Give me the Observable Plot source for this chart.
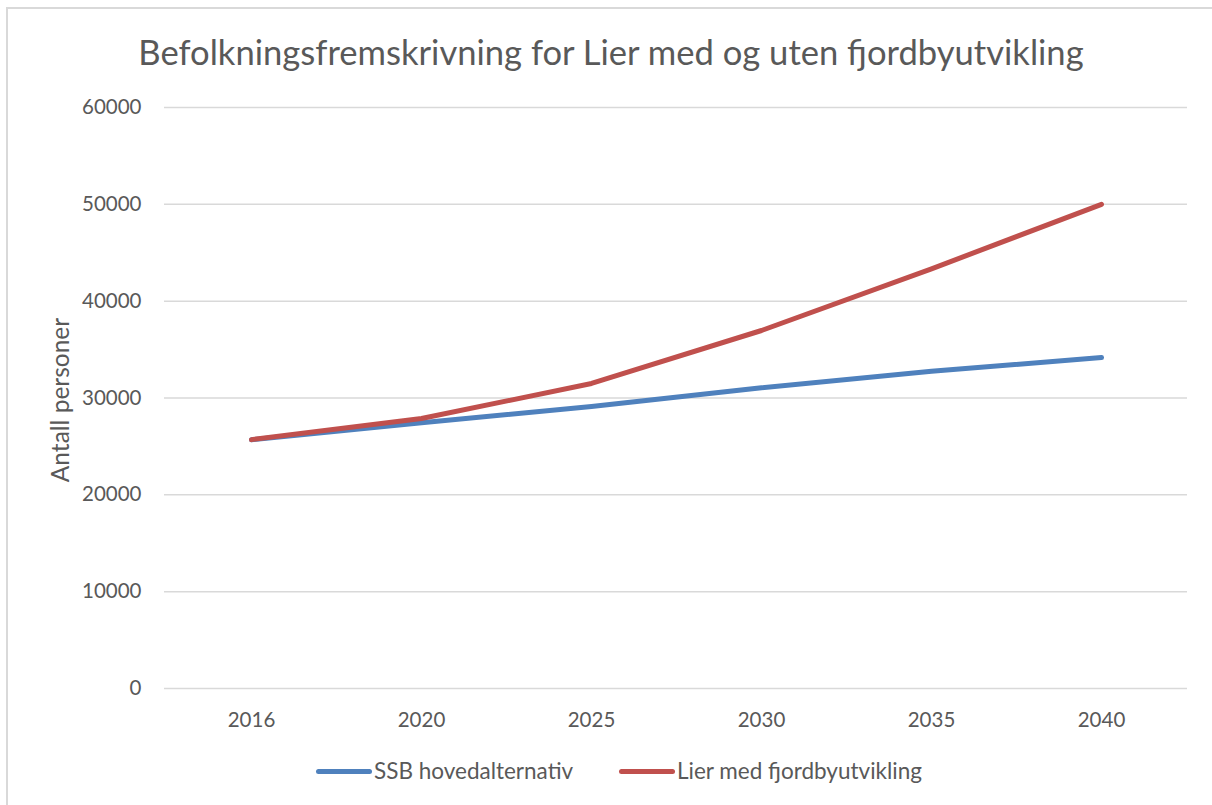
<!DOCTYPE html>
<html>
<head>
<meta charset="utf-8">
<script src="https://cdn.jsdelivr.net/npm/d3@7"></script>
<script src="https://cdn.jsdelivr.net/npm/@observablehq/plot@0.6"></script>
<style>
  html, body { margin: 0; padding: 0; background: #fff; }
  #wrap { position: relative; width: 1212px; height: 805px; overflow: hidden; font-family: Lato, "Open Sans", sans-serif; color: #595959; }
  #frame { position: absolute; left: 6px; top: 7px; right: -10px; bottom: -10px; border-top: 2px solid #D9D9D9; border-left: 2px solid #D9D9D9; }
  #title { position: absolute; left: 0; width: 1222px; top: 30px; text-align: center; font-size: 34.6px; line-height: 44px; color: #595959; white-space: nowrap; }
  #chart { position: absolute; left: 0; top: 0; }
  #legend { position: absolute; top: 758px; left: 0; width: 1212px; height: 26px; }
  .li { position: absolute; top: 0; display: flex; align-items: center; font-size: 22.5px; line-height: 26px; color: #595959; white-space: nowrap; }
  .sw { width: 56px; height: 5px; border-radius: 3px; margin-right: 2px; }
</style>
</head>
<body>
<div id="wrap">
  <div id="frame"></div>
  <div id="chart"></div>
  <div id="title"></div>
  <div id="legend"></div>
</div>
<script>
const titleText = "Befolkningsfremskrivning for Lier med og uten fjordbyutvikling";
const yLabel = "Antall personer";
const years = ["2016", "2020", "2025", "2030", "2035", "2040"];
const seriesNames = ["SSB hovedalternativ", "Lier med fjordbyutvikling"];
const ssbValues = [25700, 27450, 29120, 31050, 32770, 34180];
const lierValues = [25700, 27880, 31500, 36970, 43340, 50000];
const seriesColors = ["#4F81BD", "#C0504D"];
const yTicks = [0, 10000, 20000, 30000, 40000, 50000, 60000];

const rows = [];
years.forEach((yr, i) => {
  rows.push({year: yr, value: ssbValues[i], series: seriesNames[0]});
  rows.push({year: yr, value: lierValues[i], series: seriesNames[1]});
});

document.getElementById("title").textContent = titleText;

const plot = Plot.plot({
  width: 1212,
  height: 805,
  marginLeft: 164,
  marginRight: 25,
  marginTop: 107,
  marginBottom: 117,
  style: {fontFamily: "Lato, 'Open Sans', sans-serif", fontSize: "20.5px", color: "#595959", background: "transparent"},
  x: {type: "point", domain: years, padding: 0.5, label: null},
  y: {domain: [0, 60000], label: null},
  color: {domain: seriesNames, range: seriesColors},
  marks: [
    Plot.ruleY(yTicks, {stroke: "#D9D9D9", strokeWidth: 1.5}),
    Plot.axisY({ticks: yTicks, tickSize: 0, tickPadding: 23, tickFormat: d => String(d), label: null, fill: "#595959"}),
    Plot.axisX({tickSize: 0, tickPadding: 24, label: null, fill: "#595959"}),
    Plot.line(rows, {x: "year", y: "value", stroke: "series", z: "series", strokeWidth: 5, strokeLinecap: "round", strokeLinejoin: "round"}),
    Plot.text([yLabel], {frameAnchor: "left", dx: -103, dy: 2, rotate: -90, textAnchor: "middle", fontSize: 24.5, fill: "#595959"})
  ]
});
document.getElementById("chart").appendChild(plot);

const legend = document.getElementById("legend");
const legendX = [316, 619];
seriesNames.forEach((name, i) => {
  const item = document.createElement("div");
  item.className = "li";
  item.style.left = legendX[i] + "px";
  const sw = document.createElement("div");
  sw.className = "sw";
  sw.style.background = seriesColors[i];
  const t = document.createElement("span");
  t.textContent = name;
  item.appendChild(sw);
  item.appendChild(t);
  legend.appendChild(item);
});
</script>
</body>
</html>
